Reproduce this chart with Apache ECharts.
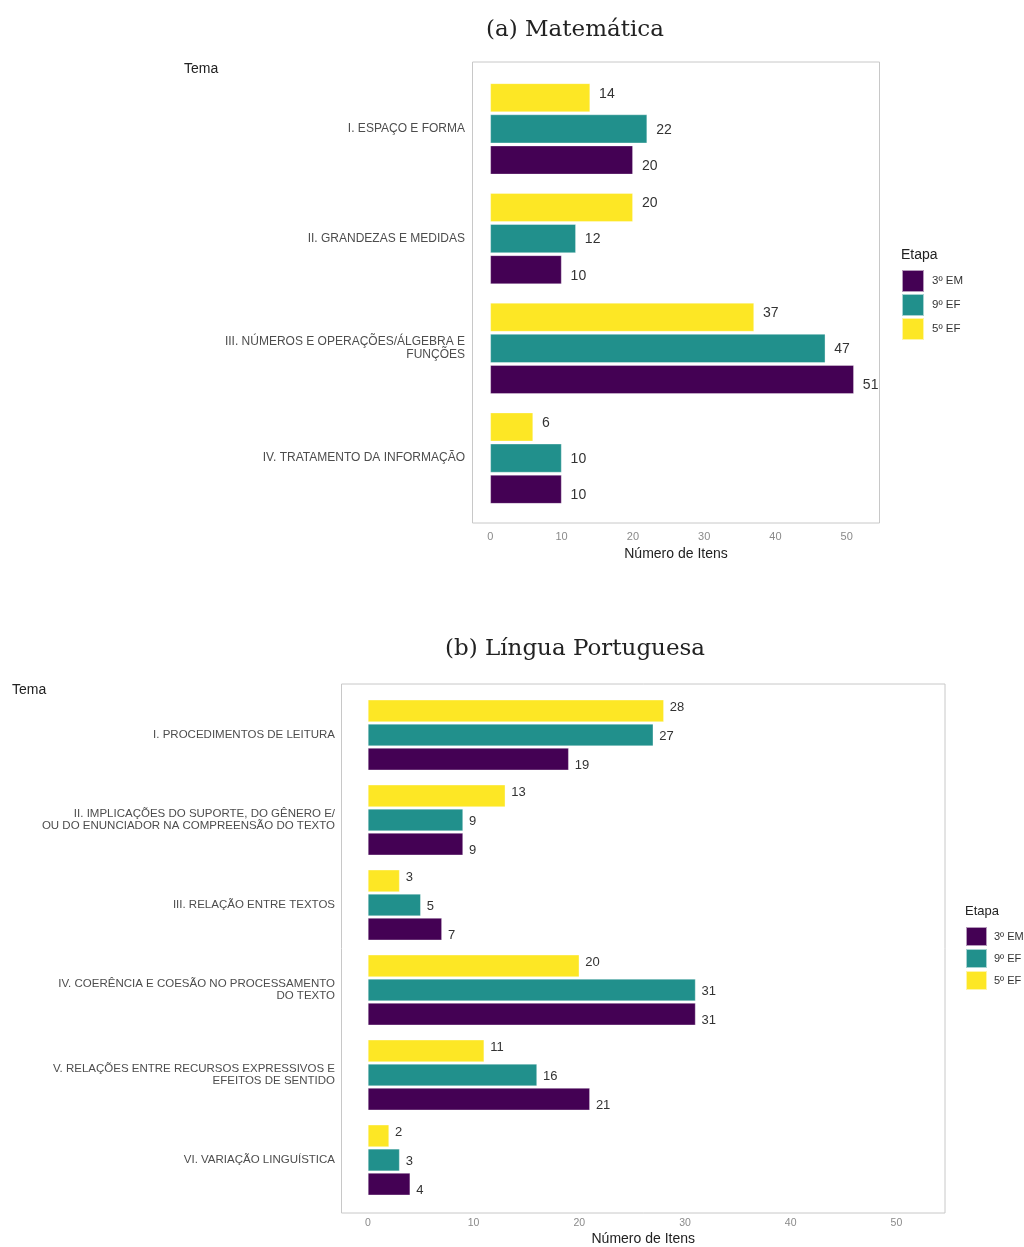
<!DOCTYPE html>
<html>
<head>
<meta charset="utf-8">
<script src="https://cdn.jsdelivr.net/npm/echarts@6/dist/echarts.min.js"></script>
<style>
  html, body { margin: 0; padding: 0; background: #fff; }
  #chart { width: 1024px; height: 1247px; }
</style>
</head>
<body>
<div id="chart"></div>
<script>
// Matemática: themes and item counts per stage
const temasMat = [
  'I. ESPAÇO E FORMA',
  'II. GRANDEZAS E MEDIDAS',
  'III. NÚMEROS E OPERAÇÕES/ÁLGEBRA E\nFUNÇÕES',
  'IV. TRATAMENTO DA INFORMAÇÃO'
];
const mat5EF = [14, 20, 37, 6];
const mat9EF = [22, 12, 47, 10];
const mat3EM = [20, 10, 51, 10];

// Língua Portuguesa: themes and item counts per stage
const temasLP = [
  'I. PROCEDIMENTOS DE LEITURA',
  'II. IMPLICAÇÕES DO SUPORTE, DO GÊNERO E/\nOU DO ENUNCIADOR NA COMPREENSÃO DO TEXTO',
  'III. RELAÇÃO ENTRE TEXTOS',
  'IV. COERÊNCIA E COESÃO NO PROCESSAMENTO\nDO TEXTO',
  'V. RELAÇÕES ENTRE RECURSOS EXPRESSIVOS E\nEFEITOS DE SENTIDO',
  'VI. VARIAÇÃO LINGUÍSTICA'
];
const lp5EF = [28, 13, 3, 20, 11, 2];
const lp9EF = [27, 9, 5, 31, 16, 3];
const lp3EM = [19, 9, 7, 31, 21, 4];

const etapas = ['3º EM', '9º EF', '5º EF'];
const xTicks = [0, 10, 20, 30, 40, 50];

const COLORS = { '3º EM': '#440154', '9º EF': '#21908C', '5º EF': '#FDE725' };
const SANS = '"Liberation Sans", Arial, sans-serif';
const SERIF = '"DejaVu Serif", "Liberation Serif", serif';
const X_MIN = -2.5, X_MAX = 54.6;

function frameAxes(gridIndex) {
  return {
    x: { type: 'value', gridIndex, min: 0, max: 1, show: false },
    y: { type: 'value', gridIndex, min: 0, max: 1, show: false }
  };
}

function valueAxis(gridIndex, margin, nameGap, fs) {
  return {
    type: 'value', gridIndex, min: X_MIN, max: X_MAX,
    axisLine: { show: false }, axisTick: { show: false }, splitLine: { show: false },
    axisLabel: { customValues: xTicks, margin, color: '#8a8a8a', fontSize: fs, fontFamily: SANS },
    name: 'Número de Itens', nameLocation: 'middle', nameGap,
    nameTextStyle: { color: '#222', fontSize: 14, fontFamily: SANS }
  };
}

function catAxis(gridIndex, data, margin, fs, lh) {
  return {
    type: 'category', gridIndex, data, inverse: true,
    axisLine: { show: false }, axisTick: { show: false }, splitLine: { show: false },
    axisLabel: { margin, color: '#4d4d4d', fontSize: fs, lineHeight: lh, fontFamily: SANS, align: 'right' }
  };
}

function barSeries(name, data, xi, yi, catGap, fs, dist, offs) {
  return {
    type: 'bar', name, data, xAxisIndex: xi, yAxisIndex: yi,
    barCategoryGap: catGap, barGap: '8%',
    itemStyle: { color: COLORS[name], borderColor: 'rgba(255,255,255,0.6)', borderWidth: 0.6 },
    label: { show: true, position: 'right', distance: dist, offset: [0, offs],
             color: '#333', fontSize: fs, fontFamily: SANS },
    emphasis: { disabled: true }
  };
}

function plainText(text, left, top, size, family) {
  return { text, left, top, padding: 0,
    textStyle: { fontFamily: family || SANS, fontSize: size, fontWeight: 'normal', color: '#222' } };
}

const fA = frameAxes(0), fB = frameAxes(2);

const option = {
  animation: false,
  backgroundColor: '#fff',
  title: [
    Object.assign(plainText('(a) Matemática', 575, 19, 23, SERIF), { textAlign: 'center' }),
    Object.assign(plainText('(b) Língua Portuguesa', 575, 638, 23, SERIF), { textAlign: 'center' }),
    plainText('Tema', 184, 62, 14),
    plainText('Tema', 12, 683, 14),
    plainText('Etapa', 901, 248, 14),
    plainText('Etapa', 965, 905, 13)
  ],
  legend: [
    { data: etapas, orient: 'vertical', left: 901, top: 269, icon: 'rect', padding: 0,
      itemWidth: 22, itemHeight: 22, itemGap: 0, selectedMode: false,
      textStyle: { fontFamily: SANS, fontSize: 11.5, color: '#333', padding: [0, 0, 0, 3] } },
    { data: etapas, orient: 'vertical', left: 965, top: 926, icon: 'rect', padding: 0,
      itemWidth: 21, itemHeight: 19, itemGap: 1, selectedMode: false,
      textStyle: { fontFamily: SANS, fontSize: 11, color: '#333', padding: [0, 0, 0, 2] } }
  ],
  grid: [
    // frame of panel (a)
    { left: 472.5, top: 62, width: 407, height: 461, show: true,
      borderColor: '#c8c8c8', borderWidth: 1, backgroundColor: 'transparent' },
    // bars of panel (a)
    { left: 472.5, top: 74, width: 407, height: 439 },
    // frame of panel (b)
    { left: 341.5, top: 684, width: 603.5, height: 529, show: true,
      borderColor: '#c8c8c8', borderWidth: 1, backgroundColor: 'transparent' },
    // bars of panel (b)
    { left: 341.5, top: 692.5, width: 603.5, height: 512 }
  ],
  xAxis: [
    fA.x,
    valueAxis(1, 18, 34, 11),
    fB.x,
    valueAxis(3, 15.5, 29.5, 10.5)
  ],
  yAxis: [
    fA.y,
    catAxis(1, temasMat, 7.5, 12, 13),
    fB.y,
    catAxis(3, temasLP, 6.5, 11.5, 12)
  ],
  series: [
    barSeries('5º EF', mat5EF, 1, 1, '17%', 14, 9, -4),
    barSeries('9º EF', mat9EF, 1, 1, '17%', 14, 9, 1),
    barSeries('3º EM', mat3EM, 1, 1, '17%', 14, 9, 6),
    barSeries('5º EF', lp5EF, 3, 3, '17%', 13, 6, -3),
    barSeries('9º EF', lp9EF, 3, 3, '17%', 13, 6, 1),
    barSeries('3º EM', lp3EM, 3, 3, '17%', 13, 6, 6)
  ]
};

const chart = echarts.init(document.getElementById('chart'), null, { renderer: 'canvas' });
chart.setOption(option);
</script>
</body>
</html>
